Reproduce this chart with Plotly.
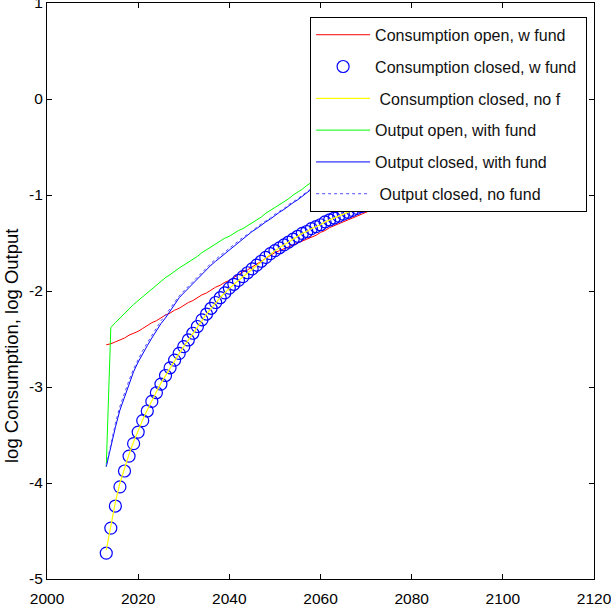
import plotly.graph_objects as go

years = list(range(2013, 2081))

cons_open_fund = [-2.56, -2.55, -2.53, -2.51, -2.49, -2.46, -2.44, -2.42, -2.39, -2.36,
                  -2.33, -2.31, -2.28, -2.25, -2.23, -2.20, -2.18, -2.15, -2.12, -2.10,
                  -2.07, -2.04, -2.02, -1.99, -1.96, -1.94, -1.91, -1.89, -1.86, -1.83,
                  -1.80, -1.78, -1.75, -1.72, -1.69, -1.66, -1.63, -1.60, -1.58, -1.56,
                  -1.54, -1.52, -1.50, -1.48, -1.46, -1.44, -1.42, -1.39, -1.37, -1.34,
                  -1.32, -1.30, -1.28, -1.26, -1.24, -1.22, -1.20, -1.18, -1.16, -1.14,
                  -1.12, -1.10, -1.08, -1.06, -1.04, -1.02, -1.00, -0.98]

cons_closed_fund = [-4.73, -4.47, -4.24, -4.04, -3.875, -3.72, -3.59, -3.47, -3.35, -3.25,
                    -3.15, -3.06, -2.97, -2.88, -2.80, -2.72, -2.65, -2.58, -2.51, -2.44,
                    -2.37, -2.30, -2.24, -2.18, -2.12, -2.07, -2.02, -1.97, -1.93, -1.89,
                    -1.85, -1.81, -1.77, -1.73, -1.69, -1.65, -1.61, -1.58, -1.55, -1.52,
                    -1.49, -1.46, -1.43, -1.40, -1.38, -1.35, -1.33, -1.31, -1.28, -1.26,
                    -1.24, -1.22, -1.20, -1.18, -1.16, -1.14, -1.12, -1.10, -1.08, -1.06,
                    -1.04, -1.02, -1.00, -0.98, -0.96, -0.94, -0.92, -0.90]

cons_closed_nofund = [-4.70, -4.43, -4.20, -4.00, -3.84, -3.70, -3.57, -3.45, -3.34, -3.24,
                      -3.14, -3.05, -2.96, -2.88, -2.80, -2.72, -2.65, -2.58, -2.51, -2.44,
                      -2.37, -2.30, -2.24, -2.18, -2.12, -2.07, -2.02, -1.97, -1.93, -1.89,
                      -1.85, -1.81, -1.77, -1.73, -1.69, -1.65, -1.61, -1.58, -1.55, -1.52,
                      -1.49, -1.46, -1.43, -1.40, -1.38, -1.35, -1.33, -1.31, -1.28, -1.26,
                      -1.24, -1.22, -1.20, -1.18, -1.16, -1.14, -1.12, -1.10, -1.08, -1.06,
                      -1.04, -1.02, -1.00, -0.98, -0.96, -0.94, -0.92, -0.90]

out_open_fund = [-3.83, -2.38, -2.33, -2.28, -2.23, -2.18, -2.14, -2.10, -2.06, -2.02,
                 -1.98, -1.94, -1.90, -1.86, -1.83, -1.79, -1.76, -1.73, -1.70, -1.67,
                 -1.64, -1.60, -1.57, -1.54, -1.51, -1.48, -1.45, -1.43, -1.40, -1.37,
                 -1.35, -1.32, -1.29, -1.26, -1.23, -1.19, -1.16, -1.13, -1.10, -1.07,
                 -1.04, -1.00, -0.97, -0.94, -0.90, -0.87, -0.84, -0.81, -0.78, -0.75,
                 -0.72, -0.69, -0.66, -0.63, -0.60, -0.57, -0.54, -0.51, -0.48, -0.45,
                 -0.42, -0.39, -0.36, -0.33, -0.30, -0.27, -0.24, -0.21]

out_closed_fund = [-3.83, -3.62, -3.42, -3.24, -3.10, -2.96, -2.84, -2.74, -2.65, -2.57,
                   -2.49, -2.41, -2.34, -2.28, -2.21, -2.14, -2.07, -2.02, -1.97, -1.92,
                   -1.87, -1.82, -1.77, -1.73, -1.69, -1.65, -1.61, -1.57, -1.53, -1.49,
                   -1.46, -1.42, -1.38, -1.35, -1.31, -1.28, -1.25, -1.21, -1.18, -1.15,
                   -1.11, -1.08, -1.05, -1.01, -0.98, -0.94, -0.91, -0.88, -0.85, -0.82,
                   -0.79, -0.76, -0.73, -0.70, -0.67, -0.64, -0.61, -0.58, -0.55, -0.52,
                   -0.49, -0.46, -0.43, -0.40, -0.38, -0.35, -0.32, -0.29]

out_closed_nofund = [-3.82, -3.58, -3.38, -3.20, -3.06, -2.93, -2.81, -2.71, -2.62, -2.54,
                     -2.46, -2.38, -2.31, -2.25, -2.18, -2.12, -2.05, -2.00, -1.95, -1.90,
                     -1.85, -1.80, -1.75, -1.71, -1.67, -1.63, -1.59, -1.55, -1.51, -1.48,
                     -1.44, -1.41, -1.37, -1.34, -1.30, -1.27, -1.24, -1.20, -1.17, -1.14,
                     -1.10, -1.07, -1.04, -1.00, -0.97, -0.93, -0.90, -0.87, -0.84, -0.81,
                     -0.78, -0.75, -0.72, -0.69, -0.66, -0.63, -0.60, -0.57, -0.54, -0.51,
                     -0.48, -0.45, -0.42, -0.39, -0.37, -0.34, -0.31, -0.28]

names = ["Consumption open, w fund", "Consumption closed, w fund\u00a0",
         "\u00a0Consumption closed, no f", "Output open, with fund",
         "Output closed, with fund", "\u00a0Output closed, no fund"]

x_ticks = [2000, 2020, 2040, 2060, 2080, 2100, 2120]
x_ticktext = ["2000", "2020", "2040", "2060", "2080", "2100", "2120"]
y_ticks = [-5, -4, -3, -2, -1, 0, 1]
y_ticktext = ["-5", "-4", "-3", "-2", "-1", "0", "1"]
y_title = "log Consumption, log Output"

FONT = "Liberation Sans, Arial, sans-serif"

fig = go.Figure()
fig.add_trace(go.Scatter(x=years, y=cons_open_fund, mode="lines", name=names[0],
                         line=dict(color="#ff0000", width=1), legendgroup="a"))
fig.add_trace(go.Scatter(x=years, y=cons_closed_fund, mode="markers", name=names[1],
                         marker=dict(symbol="circle-open", size=12, color="#0000ff",
                                     line=dict(width=1.2, color="#0000ff")), legendgroup="b"))
fig.add_trace(go.Scatter(x=years, y=cons_closed_nofund, mode="lines", name=names[2],
                         line=dict(color="#ffff00", width=1.2), legendgroup="c"))
fig.add_trace(go.Scatter(x=years, y=out_open_fund, mode="lines", name=names[3],
                         line=dict(color="#00ff00", width=1), legendgroup="d"))
fig.add_trace(go.Scatter(x=years, y=out_closed_fund, mode="lines", name=names[4],
                         line=dict(color="#0000ff", width=1), legendgroup="e"))
fig.add_trace(go.Scatter(x=years, y=out_closed_nofund, mode="lines", name=names[5],
                         line=dict(color="#4d4dff", width=1, dash="dot"), legendgroup="f"))

axis_common = dict(showline=True, linecolor="black", linewidth=1, mirror="ticks",
                   ticks="inside", ticklen=5, tickcolor="black", showgrid=False,
                   zeroline=False, automargin=False, ticklabeloverflow="allow",
                   tickfont=dict(family=FONT, size=15.5, color="black"))

fig.update_layout(
    width=611, height=611,
    margin=dict(l=47, r=17, t=3, b=32),
    paper_bgcolor="white", plot_bgcolor="white",
    font=dict(family=FONT, size=16, color="black"),
    xaxis=dict(range=[2000, 2120], tickvals=x_ticks, ticktext=x_ticktext,
               ticklabelstandoff=5, **axis_common),
    yaxis=dict(range=[-5, 1], tickvals=y_ticks, ticktext=y_ticktext, **axis_common),
    legend=dict(x=0.481, y=0.976, xanchor="left", yanchor="top",
                bgcolor="white", bordercolor="black", borderwidth=1,
                font=dict(family=FONT, size=16, color="#111111"), itemwidth=54,
                tracegroupgap=8, traceorder="grouped"),
    annotations=[dict(text=y_title, xref="paper", yref="paper",
                      x=-0.0658, y=0.4045, xanchor="center", yanchor="middle",
                      textangle=-90, showarrow=False,
                      font=dict(family=FONT, size=18.5, color="black"))],
)

fig.write_html("out.html")
